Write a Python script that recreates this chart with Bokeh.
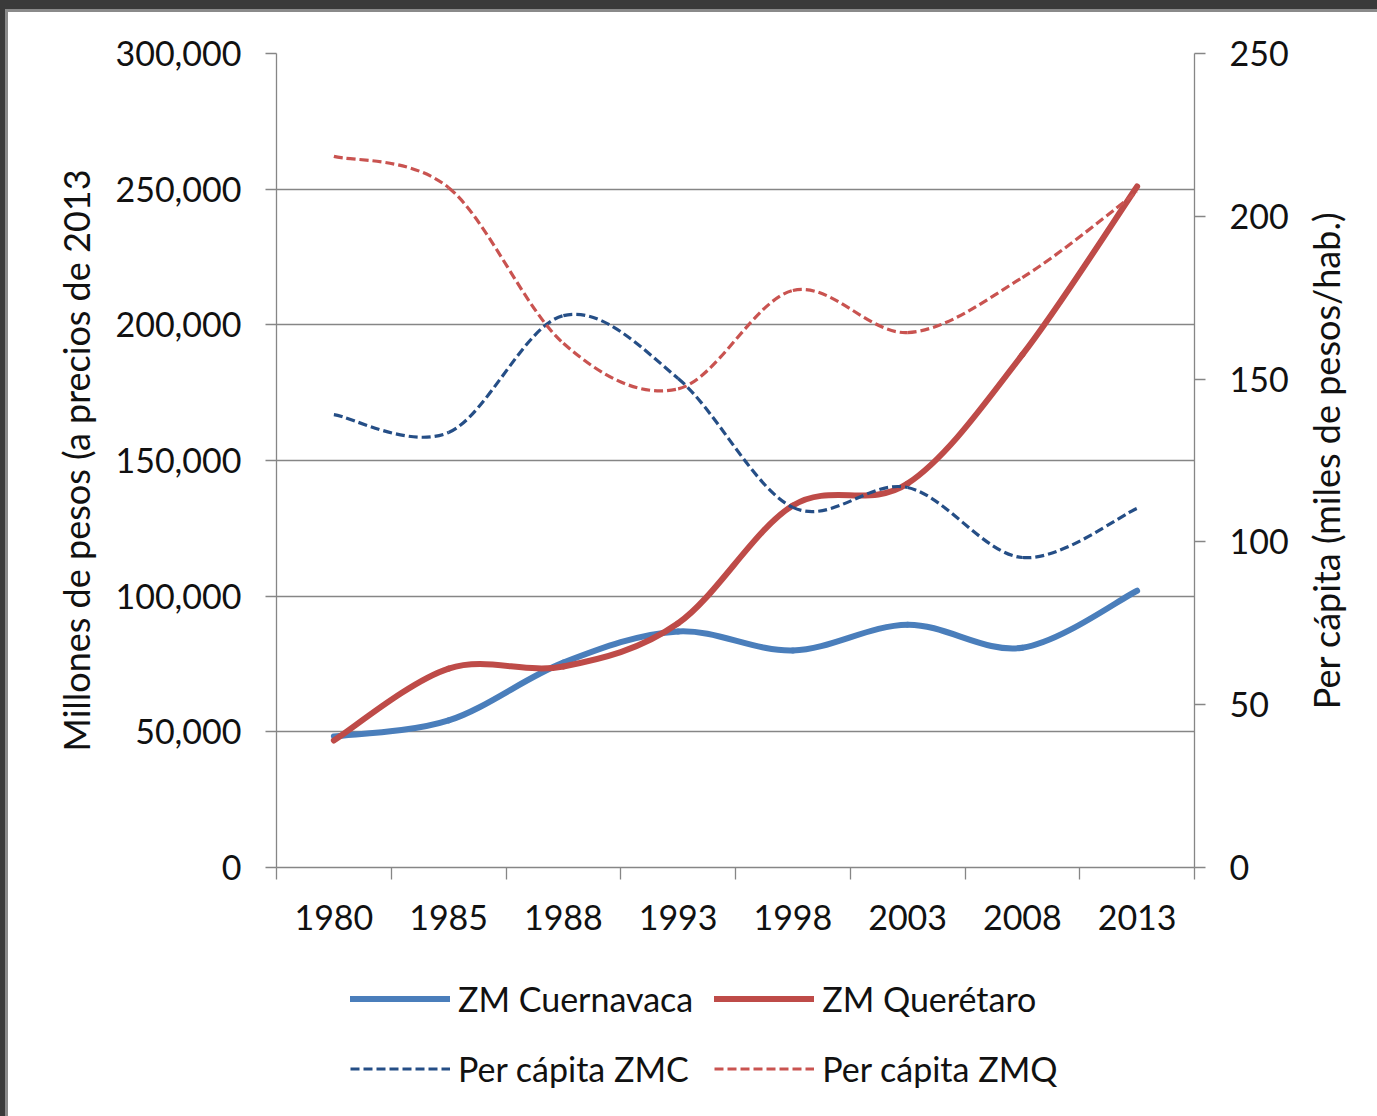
from bokeh.plotting import figure
from bokeh.layouts import gridplot
from bokeh.models import (Range1d, LinearAxis, FixedTicker, NumeralTickFormatter,
                          Legend, LegendItem, ColumnDataSource)
from bokeh.embed import file_html
from bokeh.resources import INLINE

# ---------------- data ----------------
years = ["1980", "1985", "1988", "1993", "1998", "2003", "2008", "2013"]
cuernavaca = [48300, 54200, 75500, 87000, 80000, 89500, 81000, 102000]
queretaro = [46800, 73300, 74100, 90000, 133400, 141500, 189000, 251000]
pc_zmc = [139.1, 133.6, 169.5, 150.2, 110.6, 116.7, 95.2, 110.3]
pc_zmq = [218.4, 208.8, 161.0, 147.0, 177.2, 164.3, 181.2, 207.5]
series_names = ["ZM Cuernavaca", "ZM Querétaro", "Per cápita ZMC", "Per cápita ZMQ"]
left_ticks = [0, 50000, 100000, 150000, 200000, 250000, 300000]
right_ticks = [0, 50, 100, 150, 200, 250]
left_title = "Millones de pesos (a precios de 2013"
right_title = "Per cápita (miles de pesos/hab.)"

FONT = "Lato"
FS = "34px"
TFS = "36px"
GRAY = "#868686"
TXT = "#111111"
STYLES = [("#4A7EBB", 6, "solid"), ("#BE4B48", 6, "solid"),
          ("#254E86", 3.2, "9 4"), ("#C95350", 3.2, "9 4")]

W_MAIN = 1292
W_SIDE = 1369 - W_MAIN
H_MAIN = 955
H_LEG = 149
BL, BT = 268, 41
BB = H_MAIN - BT - 814
BR = W_MAIN - BL - 918

p = figure(width=W_MAIN, height=H_MAIN, output_backend="svg", toolbar_location=None,
           x_range=Range1d(0, len(years)), y_range=Range1d(0, 300000),
           min_border_left=BL, min_border_right=BR, min_border_top=BT,
           min_border_bottom=BB)
p.outline_line_color = None
p.background_fill_color = "white"
p.border_fill_color = "white"
p.xgrid.visible = False
p.ygrid.grid_line_color = GRAY
p.ygrid.grid_line_width = 1.3
p.extra_y_ranges = {"right": Range1d(0, 250)}

xs = [i + 0.5 for i in range(len(years))]


def smooth_src(x, y):
    n = len(x)
    d = dict(x0=[], y0=[], x1=[], y1=[], cx0=[], cy0=[], cx1=[], cy1=[])
    for i in range(n - 1):
        a = max(i - 1, 0)
        b = min(i + 2, n - 1)
        d["x0"].append(x[i]); d["y0"].append(y[i])
        d["x1"].append(x[i + 1]); d["y1"].append(y[i + 1])
        d["cx0"].append(x[i] + (x[i + 1] - x[a]) / 6.0)
        d["cy0"].append(y[i] + (y[i + 1] - y[a]) / 6.0)
        d["cx1"].append(x[i + 1] - (x[b] - x[i]) / 6.0)
        d["cy1"].append(y[i + 1] - (y[b] - y[i]) / 6.0)
    return ColumnDataSource(d)


def draw(y, style, rng="default"):
    color, width, dash = style
    return p.bezier(x0="x0", y0="y0", x1="x1", y1="y1", cx0="cx0", cy0="cy0",
                    cx1="cx1", cy1="cy1", source=smooth_src(xs, y),
                    line_color=color, line_width=width, line_dash=dash,
                    line_cap="round" if dash == "solid" else "butt",
                    y_range_name=rng)


all_series = [cuernavaca, queretaro, pc_zmc, pc_zmq]
draw(cuernavaca, STYLES[0])
draw(queretaro, STYLES[1])
draw(pc_zmc, STYLES[2], "right")
draw(pc_zmq, STYLES[3], "right")

# ---------------- axes ----------------
xa = p.xaxis[0]
xa.ticker = FixedTicker(ticks=xs, minor_ticks=list(range(len(years) + 1)))
xa.major_label_overrides = {x: yv for x, yv in zip(xs, years)}
xa.major_tick_out = 0
xa.major_tick_in = 0
xa.minor_tick_out = 12
xa.minor_tick_in = 0
xa.minor_tick_line_color = GRAY
xa.minor_tick_line_width = 1.3
xa.major_label_standoff = 25

ya = p.yaxis[0]
ya.ticker = FixedTicker(ticks=left_ticks)
ya.formatter = NumeralTickFormatter(format="0,0")
ya.axis_label = left_title
ya.axis_label_standoff = 14

ra = LinearAxis(y_range_name="right", ticker=FixedTicker(ticks=right_ticks))
p.add_layout(ra, "right")

for ax in (ya, ra):
    ax.major_tick_out = 11
    ax.major_tick_in = 0
    ax.minor_tick_line_color = None
    ax.major_label_standoff = 24
    ax.major_tick_line_color = GRAY
    ax.major_tick_line_width = 1.3

for ax in (xa, ya, ra):
    ax.axis_line_color = GRAY
    ax.axis_line_width = 1.3
    ax.major_label_text_font = FONT
    ax.major_label_text_font_size = FS
    ax.major_label_text_color = TXT
    ax.axis_label_text_font = FONT
    ax.axis_label_text_font_size = TFS
    ax.axis_label_text_font_style = "normal"
    ax.axis_label_text_color = TXT

# ---------------- right-hand title strip (reads bottom to top) ----------------
pt = figure(width=W_SIDE, height=H_MAIN, output_backend="svg", toolbar_location=None,
            x_range=Range1d(0, 1), y_range=Range1d(0, 1),
            x_axis_location=None, y_axis_location="left",
            min_border_left=47, min_border_right=0, min_border_top=BT,
            min_border_bottom=BB)
pt.outline_line_color = None
pt.grid.visible = False
pt.background_fill_color = "white"
pt.border_fill_color = "white"
ta = pt.yaxis[0]
ta.ticker = FixedTicker(ticks=[])
ta.axis_line_color = None
ta.major_tick_line_color = None
ta.minor_tick_line_color = None
ta.major_label_text_font_size = "0px"
ta.major_tick_out = 0
ta.major_label_standoff = 0
ta.axis_label = right_title
ta.axis_label_standoff = 0
ta.axis_label_text_font = FONT
ta.axis_label_text_font_size = TFS
ta.axis_label_text_font_style = "normal"
ta.axis_label_text_color = TXT

# ---------------- legend strip below the chart ----------------
pl = figure(width=W_MAIN, height=H_LEG, output_backend="svg", toolbar_location=None,
            x_range=Range1d(-2, -1), y_range=Range1d(0, 1),
            x_axis_location=None, y_axis_location=None,
            min_border_left=BL, min_border_right=BR, min_border_top=0,
            min_border_bottom=0)
pl.outline_line_color = None
pl.grid.visible = False
pl.background_fill_color = "white"
pl.border_fill_color = "white"

items = []
for name, vals, (color, width, dash) in zip(series_names, all_series, STYLES):
    r = pl.line(x=xs, y=vals, line_color=color, line_width=width, line_dash=dash,
                line_cap="round" if dash == "solid" else "butt")
    items.append(LegendItem(label=name, renderers=[r]))

legend = Legend(items=items, location=(74, 23), orientation="horizontal", ncols=2)
legend.padding = 0
legend.margin = 0
legend.spacing = 21
legend.glyph_width = 100
legend.glyph_height = 49
legend.label_height = 49
legend.label_standoff = 8
legend.label_text_font = FONT
legend.label_text_font_size = FS
legend.label_text_color = TXT
legend.border_line_color = None
legend.background_fill_alpha = 0
pl.add_layout(legend, "center")

layout = gridplot([[p, pt], [pl, None]], toolbar_location=None)

template = """
{% block postamble %}
<style>
html { background: #3a3a3a; }
body { background: #ffffff; margin: 9px 0 0 5px; padding: 0;
       border-top: 3px solid #8a8a8a; border-left: 3px solid #8a8a8a;
       overflow: hidden; }
</style>
{% endblock %}
"""

open("out.html", "w").write(file_html(layout, INLINE, template=template))
